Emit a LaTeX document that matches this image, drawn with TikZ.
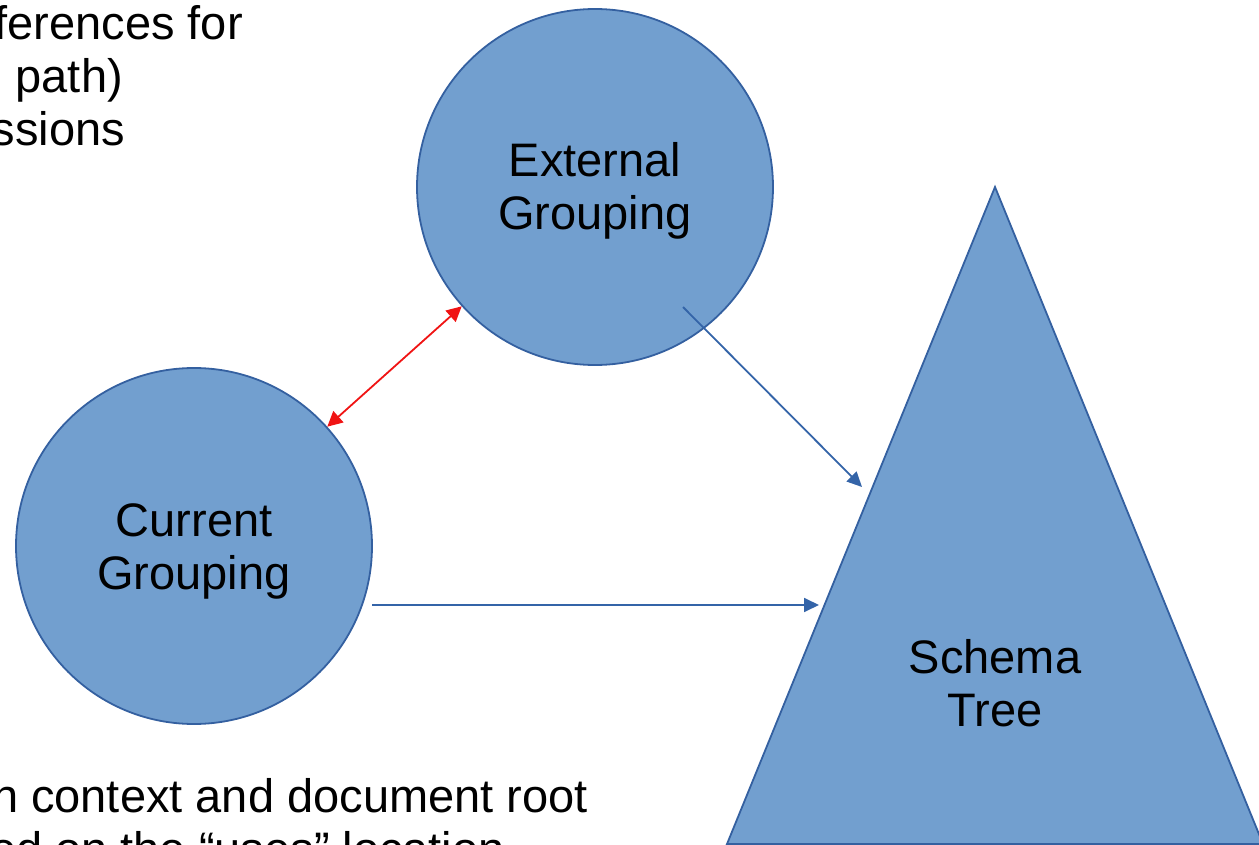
\documentclass[tikz,border=0pt]{standalone}
\usepackage{fontspec}
\setmainfont{Liberation Sans}
\usetikzlibrary{arrows.meta}
\definecolor{shapefill}{RGB}{114,159,207}
\definecolor{shapeline}{RGB}{52,96,160}
\definecolor{arrowblue}{RGB}{52,100,168}
\definecolor{arrowred}{RGB}{240,20,20}
\begin{document}
\begin{tikzpicture}[x=1pt,y=-1pt,
  every node/.style={font=\fontsize{47}{53}\selectfont, text=black},
  circ/.style={circle, minimum size=356pt, inner sep=0pt, fill=shapefill, draw=shapeline, line width=1.8pt},
  lbl/.style={align=center, inner sep=0pt},
  bluearrow/.style={draw=arrowblue, line width=1.8pt, -{Triangle[length=15pt,width=14pt]}},
  redarrow/.style={draw=arrowred, line width=1.8pt, {Triangle[length=15pt,width=15pt]}-{Triangle[length=15pt,width=15pt]}}
]
\useasboundingbox (0,0) rectangle (1259,845);
\clip (0,0) rectangle (1259,845);

% top-left text (cut off at the edge as in the reference)
\node[anchor=base east, inner sep=0pt] (t1) at (243,40) {ferences for};
\node[anchor=base east, inner sep=0pt] (t2) at (123,93) {path)};
\node[anchor=base east, inner sep=0pt] (t3) at (125,146) {ssions};

% bottom text (cut off at the edge as in the reference)
\node[anchor=base east, inner sep=0pt] (b1) at (588,812) {n context and document root};
\node[anchor=base east, inner sep=0pt] (b2) at (505,865) {ed on the “uses” location};

% shapes
\node[circ] (ext) at (595,187) {};
\node[circ] (cur) at (194,546) {};
\path[fill=shapefill, draw=shapeline, line width=1.8pt] (995,187) -- (727,844) -- (1263,844) -- cycle;

\node[lbl] (extlbl) at (595,191) {External\\Grouping};
\node[lbl] (curlbl) at (194,551) {Current\\Grouping};
\node[lbl] (tree) at (995,683) {Schema\\Tree};

% connectors
\coordinate (e1) at (683,307);
\coordinate (e2) at (862,487);
\coordinate (h1) at (372,605);
\coordinate (h2) at (819,605);
\draw[bluearrow] (e1) -- (e2);
\draw[bluearrow] (h1) -- (h2);
\draw[redarrow] (cur) -- (ext);
\end{tikzpicture}
\end{document}
